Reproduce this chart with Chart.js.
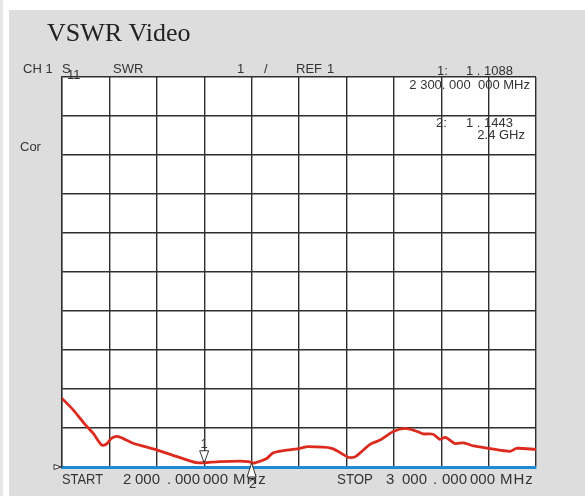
<!DOCTYPE html>
<html>
<head>
<meta charset="utf-8">
<script src="https://cdn.jsdelivr.net/npm/chart.js@4.4.0/dist/chart.umd.min.js"></script>
<style>
  body { margin: 0; background: #fff; }
  canvas { display: block; }
</style>
</head>
<body>
<canvas id="vswr" width="585" height="496"></canvas>
<script>
// sweep 2000 - 3000 MHz, SWR
const freqs = [2000, 2024, 2048, 2066, 2084, 2094, 2105, 2119, 2150, 2200, 2249, 2284, 2300, 2333, 2376, 2392, 2400, 2405, 2432, 2445, 2467, 2502, 2519, 2569, 2604, 2618, 2650, 2671, 2699, 2724, 2745, 2762, 2783, 2797, 2809, 2829, 2847, 2868, 2899, 2945, 2959, 3000];
const swr = [2.76, 2.46, 2.10, 1.86, 1.56, 1.59, 1.74, 1.78, 1.61, 1.44, 1.24, 1.11, 1.11, 1.14, 1.15, 1.14, 1.12, 1.10, 1.22, 1.36, 1.42, 1.48, 1.52, 1.48, 1.25, 1.26, 1.58, 1.69, 1.91, 1.99, 1.93, 1.85, 1.84, 1.71, 1.76, 1.60, 1.62, 1.54, 1.48, 1.40, 1.48, 1.45];

const markerFreqs = [2300, 2400];
const markerValues = [1.1088, 1.1443];
const markerNames = ["1", "2"];

const refLevel = 1;
const scaleMin = 1;
const scaleMax = 11;

const ctxEl = document.getElementById("vswr");

// draws a row of text pieces, each at its own left x (optional max width)
function pieces(c, list, y) {
  list.forEach(function (p) {
    if (p[2]) c.fillText(p[0], p[1], y, p[2]);
    else c.fillText(p[0], p[1], y);
  });
}

const backgroundPlugin = {
  id: "panel",
  beforeDraw(chart) {
    const c = chart.ctx;
    const a = chart.chartArea;
    c.save();
    c.fillStyle = "#ffffff";
    c.fillRect(0, 0, chart.width, chart.height);
    c.fillStyle = "#e6e6e6";
    c.fillRect(0, 0, 3, chart.height);
    c.fillStyle = "#dddddd";
    c.fillRect(9, 10, chart.width - 9, chart.height - 10);
    c.fillStyle = "#ffffff";
    c.fillRect(a.left, a.top, a.right - a.left, a.bottom - a.top);
    c.restore();
  }
};

const annotationPlugin = {
  id: "labels",
  afterDraw(chart) {
    const c = chart.ctx;
    const xs = chart.scales.x;
    const ys = chart.scales.y;
    c.save();
    c.fillStyle = "#222";
    c.font = "26px 'Liberation Serif', 'Times New Roman', serif";
    c.textBaseline = "alphabetic";
    c.fillText("VSWR Video", 47, 41);

    c.fillStyle = "#333";
    c.font = "13px 'Liberation Sans', Arial, sans-serif";
    c.fillText("CH 1", 23, 73);
    c.fillText("S", 62, 73);
    c.fillText("11", 67, 79);
    c.fillText("SWR", 113, 73);
    c.fillText("1", 237, 73);
    c.fillText("/", 264, 73);
    c.fillText("REF", 296, 73);
    c.fillText("1", 327, 73);

    c.fillText("1:", 437, 75);
    c.fillText("1 . 1088", 466, 75);
    c.textAlign = "right";
    c.fillText("2 300. 000  000 MHz", 530, 89);
    c.textAlign = "left";
    c.fillText("2:", 436, 127);
    c.fillText("1 . 1443", 466, 127);
    c.textAlign = "right";
    c.fillText("2.4 GHz", 525, 139);
    c.textAlign = "left";

    c.fillText("Cor", 20, 151);

    c.font = "15px 'Liberation Sans', Arial, sans-serif";
    pieces(c, [["START", 62, 41], ["2", 123], ["000", 135], [".", 167], ["000", 175], ["000", 203]], 484);
    pieces(c, [["STOP", 337, 36], ["3", 386], ["000", 402], [".", 433], ["000", 442], ["000", 470]], 484);
    c.letterSpacing = "1px";
    pieces(c, [["MHz", 233], ["MHz", 500]], 484);
    c.letterSpacing = "0px";

    // reference level pointer
    const ry = ys.getPixelForValue(refLevel);
    c.strokeStyle = "#333";
    c.lineWidth = 1;
    c.fillStyle = "#fff";
    c.beginPath();
    c.moveTo(54, ry - 2.5);
    c.lineTo(61, ry);
    c.lineTo(54, ry + 2.5);
    c.closePath();
    c.fill();
    c.stroke();

    // markers
    for (let i = 0; i < markerFreqs.length; i++) {
      const mx = xs.getPixelForValue(markerFreqs[i]);
      const my = ys.getPixelForValue(markerValues[i]);
      const by = ys.getPixelForValue(refLevel);
      c.fillStyle = "#fff";
      c.strokeStyle = "#333";
      c.beginPath();
      if (i === 0) {
        c.moveTo(mx - 4.5, my - 12);
        c.lineTo(mx + 4.5, my - 12);
        c.lineTo(mx, my);
      } else {
        c.moveTo(mx, by - 4);
        c.lineTo(mx - 4.5, by + 10);
        c.lineTo(mx + 4.5, by + 10);
      }
      c.closePath();
      c.fill();
      c.stroke();
      c.fillStyle = "#333";
      c.textAlign = "center";
      c.font = "13px 'Liberation Sans', Arial, sans-serif";
      if (i === 0) c.fillText(markerNames[i], mx, my - 15);
      else c.fillText(markerNames[i], mx + 1, by + 21);
    }
    c.restore();
  }
};

const data = {
  datasets: [
    {
      data: freqs.map((f, i) => ({ x: f, y: swr[i] })),
      borderColor: "#dd2a1f",
      borderWidth: 2.8,
      pointRadius: 0,
      tension: 0.25,
      fill: false,
    },
  ],
};

const config = {
  type: "line",
  data: data,
  options: {
    responsive: false,
    animation: false,
    layout: { padding: { left: 62, top: 77, right: 49, bottom: 29 } },
    plugins: { legend: { display: false }, tooltip: { enabled: false } },
    scales: {
      x: {
        type: "linear",
        min: 2000,
        max: 3000,
        ticks: { display: false, stepSize: 100 },
        grid: { color: "#2e2e2e", lineWidth: 1.4, drawTicks: false },
        border: { color: "#1b8bd6", width: 3 },
      },
      y: {
        min: scaleMin,
        max: scaleMax,
        ticks: { display: false, stepSize: 1 },
        grid: { color: "#2e2e2e", lineWidth: 1.4, drawTicks: false },
        border: { color: "#2e2e2e", width: 1.4 },
      },
    },
  },
  plugins: [backgroundPlugin, annotationPlugin],
};

const vswrChart = new Chart(ctxEl, config);
</script>
</body>
</html>
